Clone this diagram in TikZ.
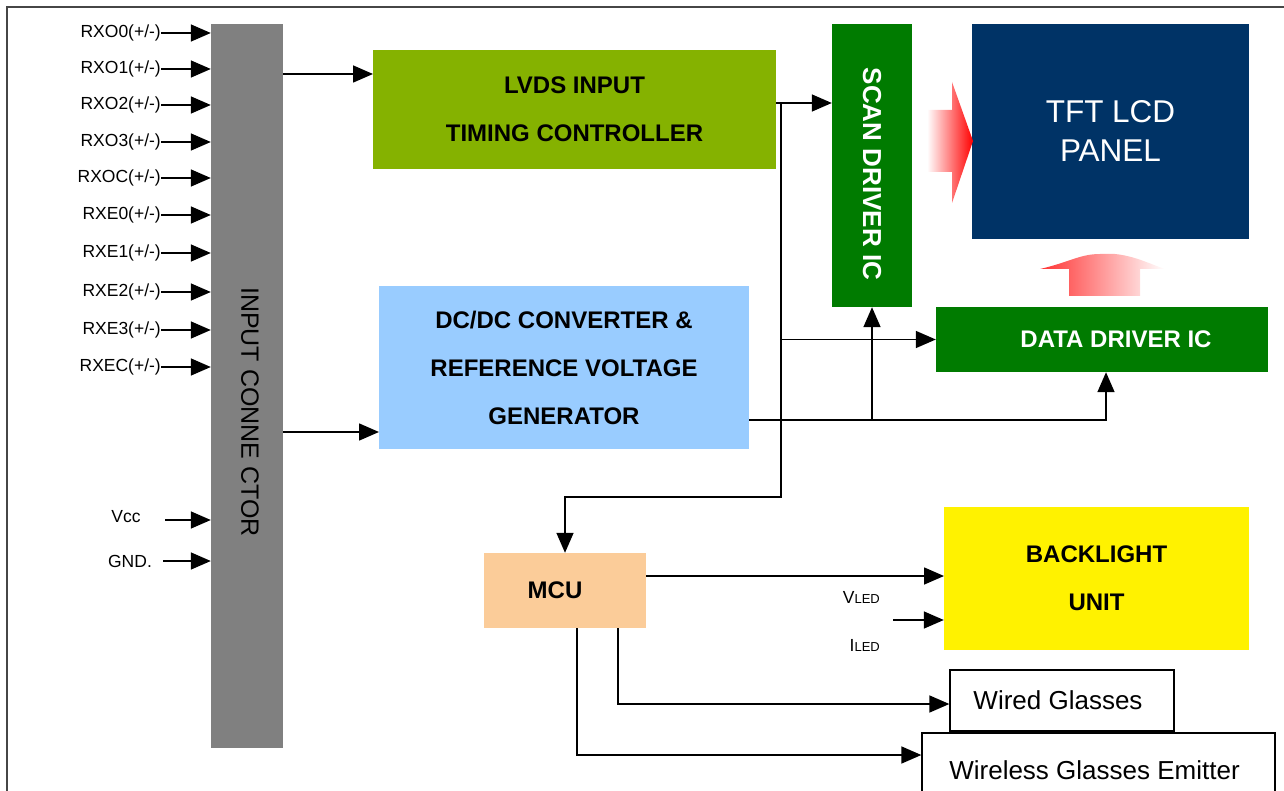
\documentclass[tikz,border=0pt]{standalone}
\usepackage{fontspec}
\setmainfont{Liberation Sans}
\usetikzlibrary{arrows.meta}

\definecolor{connGray}{RGB}{128,128,128}
\definecolor{lvdsGreen}{RGB}{133,178,0}
\definecolor{dcBlue}{RGB}{153,204,255}
\definecolor{drvGreen}{RGB}{0,123,0}
\definecolor{panelBlue}{RGB}{0,51,102}
\definecolor{mcuPeach}{RGB}{251,204,153}
\definecolor{frameGray}{RGB}{70,70,70}

\tikzstyle{blk}=[rectangle, inner sep=0pt, align=center, font=\fontsize{24}{48}\selectfont\bfseries]
\tikzstyle{sig}=[inner sep=0pt, font=\fontsize{17.5}{20}\selectfont]
\tikzstyle{glassbox}=[draw, line width=1.3pt, rectangle, inner sep=0pt, font=\fontsize{26}{30}\selectfont]
\tikzstyle{msg}=[-{Triangle[length=20pt, width=17pt]}, line width=1.6pt]

\begin{document}
\begin{tikzpicture}[x=1pt, y=-1pt]
    \useasboundingbox (0,0) rectangle (1284,791);
    \draw[frameGray, line width=2pt] (7,791) -- (7,7) -- (1284,7);

    \node[blk, fill=connGray, minimum width=72pt, minimum height=724pt] (conn) at (247, 386) {};
    \node[font=\fontsize{25}{28}\selectfont, rotate=-90] (connlbl) at (250, 412) {INPUT CONNE CTOR};

    \foreach \lbl/\yy [count=\i] in {RXO0/33, RXO1/69, RXO2/105, RXO3/142, RXOC/178,
                                     RXE0/215, RXE1/253, RXE2/292, RXE3/330, RXEC/367} {
        \node[sig, anchor=east] (rx\i) at (161, \yy) {\lbl(+/-)};
        \draw[msg] (rx\i.east) -- (rx\i -| conn.west);
    }
    \node[sig] (vcc) at (126, 517) {Vcc};
    \node[sig] (gnd) at (130, 561) {GND.};
    \coordinate (vccin) at (165, 520);
    \coordinate (gndin) at (163, 561);
    \draw[msg] (vccin) -- (vccin -| conn.west);
    \draw[msg] (gndin) -- (gndin -| conn.west);

    \node[blk, fill=lvdsGreen, minimum width=403pt, minimum height=119pt] (lvds) at (574.5, 109.5) {LVDS INPUT\\TIMING CONTROLLER};
    \node[blk, fill=dcBlue, minimum width=370pt, minimum height=163pt] (dcdc) at (564, 367.5) {DC/DC CONVERTER \&\\REFERENCE VOLTAGE\\GENERATOR};
    \node[blk, fill=drvGreen, minimum width=80pt, minimum height=283pt] (scan) at (872, 165.5) {};
    \node[blk, text=white, font=\fontsize{26}{30}\selectfont\bfseries, rotate=-90] (scanlbl) at (872, 174) {SCAN DRIVER IC};
    \node[blk, fill=drvGreen, text=white, minimum width=332pt, minimum height=65pt] (data) at (1102, 339.5) {\hspace*{28pt}DATA DRIVER IC};
    \node[blk, fill=panelBlue, text=white, font=\fontsize{31.5}{39}\selectfont, minimum width=277pt, minimum height=215pt] (tft) at (1110.5, 131.5) {TFT LCD\\PANEL};
    \node[blk, fill=mcuPeach, minimum width=162pt, minimum height=75pt] (mcu) at (565, 590.5) {\hspace*{-20pt}MCU};
    \node[blk, fill=yellow, minimum width=305pt, minimum height=143pt] (bl) at (1096.5, 578.5) {BACKLIGHT\\UNIT};
    \node[glassbox, minimum width=224pt, minimum height=61pt] (wired) at (1062, 700.5) {\hspace*{-8pt}\raisebox{-4pt}{Wired Glasses}};
    \node[glassbox, minimum width=353pt, minimum height=74pt] (wless) at (1098.5, 770) {\hspace*{-8pt}Wireless Glasses Emitter};

    \node[sig, anchor=east] (vled) at (880, 597) {V{\fontsize{13}{14}\selectfont LED}};
    \node[sig, anchor=east] (iled) at (880, 645) {I{\fontsize{13}{14}\selectfont LED}};

    % gradient arrows into the panel
    \shade[left color=white, right color=red] (927,110) -- (952,110) -- (952,82) -- (973,141) -- (952,203) -- (952,172) -- (927,172) -- cycle;
    \shade[left color=red!80, right color=white] (1069,296) -- (1069,269) -- (1040,269) .. controls (1070,262) and (1080,254) .. (1100,254) -- (1115,254) .. controls (1135,256) and (1150,264) .. (1165,269) -- (1140,269) -- (1140,296) -- cycle;

    \coordinate (lvin) at (373, 74);
    \coordinate (dcin) at (379, 432);
    \coordinate (bus) at (781, 103);
    \coordinate (bend) at (781, 497);
    \coordinate (dcout) at (749, 420);
    \coordinate (blin) at (944, 576);
    \coordinate (ledin) at (893, 620);
    \coordinate (wdout) at (618, 704);
    \coordinate (wlout) at (577, 755);

    \draw[msg] (conn.east |- lvin) -- (lvin);
    \draw[msg] (conn.east |- dcin) -- (dcin);
    \draw[msg] (lvds.east |- bus) -- (scan.west |- bus);
    \draw[msg] (bus) -- (bend) -| (mcu.north);
    \draw[msg] (bus |- data.west) -- (data.west);
    \draw[msg] (dcout) -| ([xshift=4pt]data.south);
    \draw[msg] (scan.south |- dcout) -- (scan.south);
    \draw[msg] (mcu.east |- blin) -- (blin);
    \draw[msg] (ledin) -- (ledin -| bl.west);
    \draw[msg] (mcu.south -| wdout) -- (wdout) -- (wdout -| wired.west);
    \draw[msg] (mcu.south -| wlout) -- (wlout) -- (wlout -| wless.west);
\end{tikzpicture}
\end{document}
